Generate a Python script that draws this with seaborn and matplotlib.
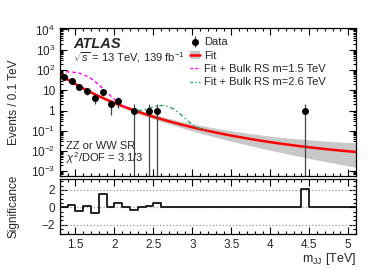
import numpy as np
import pandas as pd
import matplotlib
matplotlib.use("Agg")
import matplotlib.pyplot as plt
import seaborn as sns
from matplotlib.lines import Line2D
from matplotlib.patches import Patch
from matplotlib.ticker import MultipleLocator, FixedLocator, FuncFormatter, NullFormatter

# data points (bin centres in TeV, events per bin)
data_x = [1.35, 1.45, 1.55, 1.65, 1.75, 1.85, 1.95, 2.05, 2.25, 2.45, 2.55, 4.45]
data_n = [47, 30, 14, 9, 4, 8, 2, 3, 1, 1, 1, 1]

# fit function parameters (dijet form)
fit_pars = [-16.46, -7.46, -8.588]

# signal shapes added on top of the fit: mean, width, peak height
sig15 = [1.50, 0.18, 55.0]
sig26 = [2.62, 0.15, 1.4]

# significance per 0.1 TeV bin from 1.3 to 5.1 TeV
sig_edges = [round(1.3 + 0.1 * i, 2) for i in range(39)]
significance = [0.0, 0.28, -0.4, 0.12, -0.64, 1.52, 0.0, 0.52, 0.0, -0.32,
                0.0, 0.2, 0.45, 0.0, 0.0, 0.0, 0.0, 0.0, 0.0, 0.0,
                0.0, 0.0, 0.0, 0.0, 0.0, 0.0, 0.0, 0.0, 0.0, 0.0,
                0.0, 2.1, 0.0, 0.0, 0.0, 0.0, 0.0, 0.0]


def fit_func(x):
    z = x / 13.0
    return np.exp(fit_pars[0] + fit_pars[1] * np.log(1 - z) + fit_pars[2] * np.log(z))


def gauss(x, p):
    return p[2] * np.exp(-0.5 * ((x - p[0]) / p[1]) ** 2)


sns.set_style("ticks")
plt.rcParams["font.family"] = ["Liberation Sans", "DejaVu Sans"]
plt.rcParams["mathtext.fontset"] = "custom"
plt.rcParams["mathtext.rm"] = "Liberation Sans"
plt.rcParams["mathtext.it"] = "Liberation Sans:italic"
plt.rcParams["font.size"] = 8

fig = plt.figure(figsize=(3.74, 2.68), dpi=100)
ax = fig.add_axes([0.160, 0.344, 0.792, 0.552])
rax = fig.add_axes([0.160, 0.127, 0.792, 0.205], sharex=ax)

# fit curve + band
xs = np.linspace(1.3, 5.1, 300)
fs = fit_func(xs)
t = (xs - 1.3) / 3.8
up = fs * 10 ** (0.03 + 0.42 * t ** 1.3)
dn = fs * 10 ** -(0.03 + 0.73 * t ** 2)
ax.fill_between(xs, dn, up, color="#c8c8c8", lw=0)
fit_df = pd.DataFrame({"m": xs, "fit": fs})
sns.lineplot(data=fit_df, x="m", y="fit", ax=ax, color="red", lw=1.8)

# signal curves
x15 = np.linspace(1.38, 2.15, 120)
s15 = pd.DataFrame({"m": x15, "y": fit_func(x15) + gauss(x15, sig15)})
sns.lineplot(data=s15, x="m", y="y", ax=ax, color="#ff00ff", lw=1.0, linestyle=(0, (2.5, 2)))
x26 = np.linspace(2.3, 3.2, 120)
s26 = pd.DataFrame({"m": x26, "y": fit_func(x26) + gauss(x26, sig26)})
sns.lineplot(data=s26, x="m", y="y", ax=ax, color="#2ca25f", lw=1.0, linestyle=(0, (3, 2, 1, 2)))

# data
n = np.array(data_n, dtype=float)
data_art = ax.errorbar(data_x, n, yerr=np.sqrt(n), fmt="o", color="black", ms=4,
                       ecolor="#444444", elinewidth=0.9, capsize=0)

ax.set_yscale("log")
ax.set_xlim(1.3, 5.1)
ax.set_ylim(6e-4, 1.2e4)
ax.set_xlabel("")
ax.set_ylabel("Events / 0.1 TeV", fontsize=8.5)


def logfmt(v, pos):
    e = int(round(np.log10(v)))
    if e == 0:
        return "1"
    if e == 1:
        return "10"
    return r"$10^{%d}$" % e


major_y = [10.0 ** e for e in range(-3, 5)]
minor_y = [m * 10.0 ** e for e in range(-4, 5) for m in range(2, 10)
           if 6e-4 <= m * 10.0 ** e <= 1.2e4]
ax.yaxis.set_major_locator(FixedLocator(major_y))
ax.yaxis.set_minor_locator(FixedLocator(minor_y))
ax.yaxis.set_major_formatter(FuncFormatter(logfmt))
ax.yaxis.set_minor_formatter(NullFormatter())
ax.xaxis.set_major_locator(MultipleLocator(0.5))
ax.xaxis.set_minor_locator(MultipleLocator(0.1))
plt.setp(ax.get_xticklabels(), visible=False)

for a in (ax, rax):
    a.tick_params(which="both", direction="in", top=True, right=True, labelsize=8.5,
                  color="black", width=0.8)
    a.tick_params(which="major", length=5)
    a.tick_params(which="minor", length=2.5)
    for s in a.spines.values():
        s.set_linewidth(0.9)
        s.set_color("black")

ax.text(0.045, 0.89, "ATLAS", transform=ax.transAxes, fontsize=10.5,
        fontweight="bold", fontstyle="italic", va="center")
ax.text(0.045, 0.80, r"$\sqrt{s}$ = 13 TeV, 139 fb$^{-1}$", transform=ax.transAxes,
        fontsize=8, va="center")
ax.text(0.022, 0.20, "ZZ or WW SR", transform=ax.transAxes, fontsize=8, va="center")
ax.text(0.022, 0.12, r"$\chi^{2}$/DOF = 3.1/3", transform=ax.transAxes, fontsize=8, va="center")

handles = [
    data_art,
    (Patch(color="#c8c8c8", lw=0), Line2D([], [], color="red", lw=1.8)),
    Line2D([], [], color="#ff00ff", lw=1.0, linestyle=(0, (2, 1.5))),
    Line2D([], [], color="#2ca25f", lw=1.0, linestyle=(0, (2, 1.5, 1, 1.5))),
]
labels = ["Data", "Fit", "Fit + Bulk RS m=1.5 TeV", "Fit + Bulk RS m=2.6 TeV"]
ax.legend(handles, labels, loc="upper left", bbox_to_anchor=(0.439, 0.935), frameon=False,
          fontsize=8, handlelength=0.95, handletextpad=0.3, labelspacing=0.3,
          borderaxespad=0, borderpad=0)

# significance panel
centers = [(sig_edges[i] + sig_edges[i + 1]) / 2 for i in range(len(significance))]
sig_df = pd.DataFrame({"m": centers, "sig": significance})
for yv in (-2, 0, 2):
    rax.axhline(yv, color="#999999", lw=0.9, linestyle=":")
sns.histplot(data=sig_df, x="m", weights="sig", bins=sig_edges, element="step",
             fill=False, color="black", lw=1.2, ax=rax)
rax.set_ylim(-3.05, 3.25)
rax.set_xlim(1.3, 5.1)
rax.yaxis.set_minor_locator(MultipleLocator(0.5))
rax.set_yticks([-2, 0, 2])
rax.set_yticklabels(["\u22122", "0", "2"])
rax.set_ylabel("Significance", fontsize=8.5)
rax.set_xlabel(r"m$_{\mathrm{JJ}}$ [TeV]", fontsize=9)
rax.set_xticks([1.5, 2, 2.5, 3, 3.5, 4, 4.5, 5])
rax.set_xticklabels(["1.5", "2", "2.5", "3", "3.5", "4", "4.5", "5"])

ax.yaxis.set_label_coords(-0.135, 0.5)
rax.yaxis.set_label_coords(-0.135, 0.5)
rax.xaxis.set_label_coords(1.0, -0.31)
rax.xaxis.label.set_horizontalalignment("right")

fig.savefig("out.png", dpi=100)
